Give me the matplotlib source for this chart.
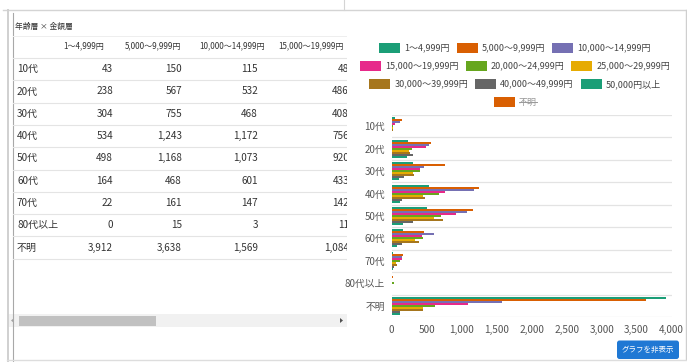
import matplotlib
matplotlib.use('Agg')
import matplotlib.pyplot as plt
from matplotlib.patches import Rectangle, FancyBboxPatch, Polygon

W, H = 687, 362
FAM = ['Liberation Sans Narrow', 'Noto Sans CJK JP', 'DejaVu Sans']
plt.rcParams['font.family'] = FAM

# ---------------- data ----------------
age_groups = ['10代', '20代', '30代', '40代', '50代', '60代', '70代', '80代以上', '不明']
series_labels = ['1～4,999円', '5,000～9,999円', '10,000～14,999円', '15,000～19,999円',
                 '20,000～24,999円', '25,000～29,999円', '30,000～39,999円',
                 '40,000～49,999円', '50,000円以上', '不明']
hidden_labels = ['不明']

amt_1_4999 = [43, 238, 304, 534, 498, 164, 22, 0, 3912]
amt_5000_9999 = [150, 567, 755, 1243, 1168, 468, 161, 15, 3638]
amt_10000_14999 = [115, 532, 468, 1172, 1073, 601, 147, 3, 1569]
amt_15000_19999 = [48, 486, 408, 756, 920, 433, 142, 11, 1084]
amt_20000_24999 = [25, 283, 398, 680, 700, 440, 118, 28, 620]
amt_25000_29999 = [20, 240, 305, 450, 598, 335, 68, 6, 450]
amt_30000_39999 = [12, 260, 312, 478, 730, 390, 82, 8, 440]
amt_40000_49999 = [5, 307, 170, 150, 310, 142, 30, 2, 120]
amt_50000_plus = [8, 215, 100, 115, 168, 70, 25, 4, 125]

shown_series = [amt_1_4999, amt_5000_9999, amt_10000_14999, amt_15000_19999,
                amt_20000_24999, amt_25000_29999, amt_30000_39999,
                amt_40000_49999, amt_50000_plus]
table_series = [amt_1_4999, amt_5000_9999, amt_10000_14999, amt_15000_19999]
table_headers = ['1～4,999円', '5,000～9,999円', '10,000～14,999円', '15,000～19,999円']
table_title = '年齢層 × 金額層'
x_ticks = [0, 500, 1000, 1500, 2000, 2500, 3000, 3500, 4000]
button_label = 'グラフを非表示'

colors = ['#1b9e77', '#d95f02', '#7570b3', '#e7298a', '#66a61e',
          '#e6ab02', '#a6761d', '#666666', '#1b9e77', '#d95f02']

# ---------------- figure ----------------
fig = plt.figure(figsize=(W / 100, H / 100), dpi=100)
fig.patch.set_facecolor('white')

ov = fig.add_axes([0, 0, 1, 1])
ov.set_xlim(0, W)
ov.set_ylim(H, 0)
ov.axis('off')

# frame lines
ov.plot([3, 686], [9.5, 9.5], color='#d4d4d4', lw=1.0)
ov.plot([343.5, 343.5], [0, 9.5], color='#d4d4d4', lw=0.8)
ov.plot([7.5, 7.5], [9.5, 362], color='#d0d0d0', lw=1.4)
ov.plot([12.5, 12.5], [13, 362], color='#a8a8a8', lw=0.8)
ov.plot([685.5, 685.5], [9.5, 359], color='#cfcfcf', lw=1.0)
ov.plot([7, 686], [359.5, 359.5], color='#dddddd', lw=1.0)

# ---------------- table ----------------
tab = fig.add_axes([13 / W, 1 - 312 / H, (347 - 13) / W, (312 - 13) / H])
tab.set_xlim(13, 347)
tab.set_ylim(312, 13)
tab.axis('off')

tab.text(15, 27, table_title, fontsize=5.6, color='#333333', ha='left', va='center')
tab.plot([13, 347], [36, 36], color='#eeeeee', lw=0.7)
header_x = [84, 153, 232, 311]
for hx, lab in zip(header_x, table_headers):
    tab.text(hx, 46, lab, fontsize=5.8, color='#333333', ha='center', va='center', clip_on=True)

row_pitch = 22.3
for k in range(len(age_groups) + 1):
    y = 58 + k * row_pitch
    tab.plot([13, 347], [y, y], color='#e4e4e4', lw=0.8)

val_right = [113, 182, 258, 349]
for r, grp in enumerate(age_groups):
    y = 69.2 + r * row_pitch
    tab.text(17, y, grp, fontsize=7.2, color='#333333', ha='left', va='center')
    for c, ser in enumerate(table_series):
        tab.text(val_right[c], y, f'{ser[r]:,}', fontsize=7.2, color='#333333',
                 ha='right', va='center', clip_on=True)

# scrollbar
ov.add_patch(Rectangle((8, 314), 339, 13, color='#f1f1f1', lw=0))
ov.add_patch(Rectangle((19, 315.5), 137, 10.5, color='#c1c1c1', lw=0))
ov.add_patch(Polygon([[14, 318], [14, 323], [11, 320.5]], closed=True, color='#a3a3a3', lw=0))
ov.add_patch(Polygon([[340, 318], [340, 323], [343, 320.5]], closed=True, color='#505050', lw=0))

# ---------------- chart ----------------
ax = fig.add_axes([391.7 / W, 1 - 317 / H, 280 / W, 202 / H])
n = len(shown_series)
group_frac = 0.8
bh = group_frac / n
ypos = list(range(len(age_groups)))
for i, vals in enumerate(shown_series):
    offs = [y - group_frac / 2 + bh * (i + 0.5) for y in ypos]
    ax.barh(offs, vals, height=bh, color=colors[i], linewidth=0)

ax.set_xlim(x_ticks[0], x_ticks[-1])
ax.set_ylim(len(age_groups) - 0.5, -0.5)
for b in range(len(age_groups) + 1):
    ax.axhline(b - 0.5, color='#e3e3e3', lw=0.9, zorder=0)
ax.set_xticks(x_ticks)
ax.set_xticklabels([f'{t:,}' for t in x_ticks])
ax.set_yticks(ypos)
ax.set_yticklabels(age_groups)
ax.tick_params(axis='x', length=0, pad=6, labelsize=7.2, colors='#555555')
ax.tick_params(axis='y', length=0, pad=4.8, labelsize=7.0, colors='#555555')
for s in ax.spines.values():
    s.set_visible(False)
ax.set_facecolor('none')

# ---------------- legend (manual) ----------------
rows = [[0, 1, 2], [3, 4, 5], [6, 7, 8], [9]]
row_y = [48, 66, 84, 102]
sw_w, sw_h, gap_t, gap_i = 21, 10, 4, 7
legend_cx = 515
renderer = fig.canvas.get_renderer()
for row, yy in zip(rows, row_y):
    items = []
    for idx in row:
        hidden = series_labels[idx] in hidden_labels
        t = ov.text(0, yy, series_labels[idx], fontsize=6.5,
                    color='#999999' if hidden else '#444444', ha='left', va='center')
        wpx = t.get_window_extent(renderer=renderer).width
        items.append((idx, t, wpx, hidden))
    total = sum(sw_w + gap_t + w for _, _, w, _ in items) + gap_i * (len(items) - 1)
    x = legend_cx - total / 2
    for idx, t, wpx, hidden in items:
        ov.add_patch(Rectangle((x, yy - sw_h / 2), sw_w, sw_h, color=colors[idx], lw=0))
        tx = x + sw_w + gap_t
        t.set_position((tx, yy))
        if hidden:
            ov.plot([tx, tx + wpx], [yy, yy], color='#999999', lw=0.7)
        x = tx + wpx + gap_i

# ---------------- button ----------------
ov.add_patch(FancyBboxPatch((617, 340.5), 62, 18.5,
                            boxstyle='round,pad=0,rounding_size=2.5',
                            fc='#1f78d4', ec='none'))
ov.text(648, 349.8, button_label, fontsize=5.4, color='white', ha='center', va='center')

fig.savefig('out.png', dpi=100, facecolor='white')
